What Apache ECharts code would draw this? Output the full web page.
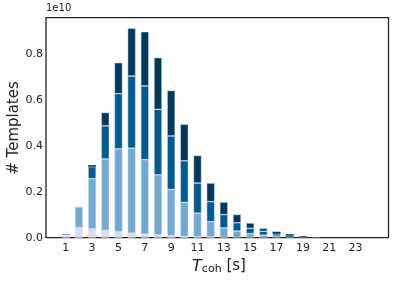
<!DOCTYPE html>
<html>
<head>
<meta charset="utf-8">
<script src="https://cdn.jsdelivr.net/npm/echarts@6/dist/echarts.min.js"></script>
<style>
html,body{margin:0;padding:0;background:#fff;}
#chart{width:395px;height:281px;}
</style>
</head>
<body>
<div id="chart"></div>
<script>
// T_coh categories (seconds)
var categories = ['0','1','2','3','4','5','6','7','8','9','10','11','12','13','14','15','16','17','18','19','20','21','22','23','24','25'];
// tick labels shown on x axis
var xTickLabels = ['1','3','5','7','9','11','13','15','17','19','21','23'];
// y ticks (units of 1e10)
var yTicks = [0.0, 0.2, 0.4, 0.6, 0.8];
// stacked series values (units of 1e10), bottom to top
var seriesLavender = [0, 0.012, 0.044, 0.039, 0.032, 0.026, 0.020, 0.016, 0.012, 0.009, 0.005, 0.004, 0.003, 0.002, 0.001, 0.001, 0.001, 0, 0, 0, 0, 0, 0, 0, 0, 0];
var seriesLight    = [0, 0.004, 0.090, 0.218, 0.311, 0.361, 0.370, 0.324, 0.262, 0.201, 0.149, 0.103, 0.067, 0.041, 0.028, 0.017, 0.010, 0.007, 0.004, 0.002, 0.002, 0, 0, 0, 0, 0];
var seriesMedium   = [0, 0, 0, 0.052, 0.144, 0.240, 0.314, 0.321, 0.285, 0.233, 0.181, 0.131, 0.087, 0.058, 0.036, 0.023, 0.017, 0.010, 0.005, 0.002, 0.001, 0, 0, 0, 0, 0];
var seriesDark     = [0, 0, 0, 0.007, 0.058, 0.135, 0.208, 0.236, 0.225, 0.198, 0.159, 0.120, 0.081, 0.054, 0.036, 0.023, 0.013, 0.009, 0.006, 0.003, 0, 0, 0, 0, 0, 0];

var colors = ['#dcdcec', '#74a9cf', '#045a8d', '#023858'];
var layers = [seriesLavender, seriesLight, seriesMedium, seriesDark];

var chart = echarts.init(document.getElementById('chart'), null, {renderer:'canvas'});
var FONT = 'DejaVu Sans';

var series = layers.map(function(arr, i){
  return {
    type:'bar', stack:'total', barWidth:8,
    data: arr.map(function(v){
      return {value:v, itemStyle:{borderWidth: v >= 0.01 ? 0.6 : 0}};
    }),
    itemStyle:{color:colors[i], borderColor:'rgba(205,220,235,0.85)', borderWidth:0.6},
    emphasis:{disabled:true}, silent:true, animation:false
  };
});

chart.setOption({
  animation:false,
  backgroundColor:'#fff',
  grid:{left:46, right:6.5, top:17.7, bottom:43.3, show:true, borderColor:'#262626', borderWidth:1.3, backgroundColor:'transparent', containLabel:false},
  xAxis:{
    type:'category', data:categories, boundaryGap:true,
    axisLine:{show:false}, axisTick:{show:false}, splitLine:{show:false},
    axisLabel:{
      interval:0, margin:5, fontFamily:FONT, fontSize:11, color:'#222',
      formatter:function(v){ return xTickLabels.indexOf(v) >= 0 ? v : ''; }
    }
  },
  yAxis:{
    type:'value', min:0, max:0.958, interval:0.2,
    axisLine:{show:false}, axisTick:{show:false}, splitLine:{show:false},
    axisLabel:{
      margin:3, fontFamily:FONT, fontSize:11, color:'#222',
      formatter:function(v){
        for (var k=0;k<yTicks.length;k++){ if (Math.abs(v-yTicks[k])<1e-9) return yTicks[k].toFixed(1); }
        return '';
      }
    }
  },
  series:series,
  graphic:[
    {type:'text', left:46, top:3, style:{text:'1e10', font:'10px "DejaVu Sans"', fill:'#222'}},
    {type:'text', x:14, y:128, rotation:Math.PI/2, style:{text:'# Templates', font:'15px "DejaVu Sans"', fill:'#222', align:'center', verticalAlign:'middle'}},
    {type:'text', x:219, y:266, style:{
      text:'{t|T}{s|coh}{n| [s]}', align:'center', verticalAlign:'middle',
      rich:{
        t:{font:'italic 16px "DejaVu Sans"', fill:'#222', verticalAlign:'bottom'},
        s:{font:'11px "DejaVu Sans"', fill:'#222', padding:[6,0,0,0]},
        n:{font:'15px "DejaVu Sans"', fill:'#222'}
      }
    }}
  ]
});
</script>
</body>
</html>
